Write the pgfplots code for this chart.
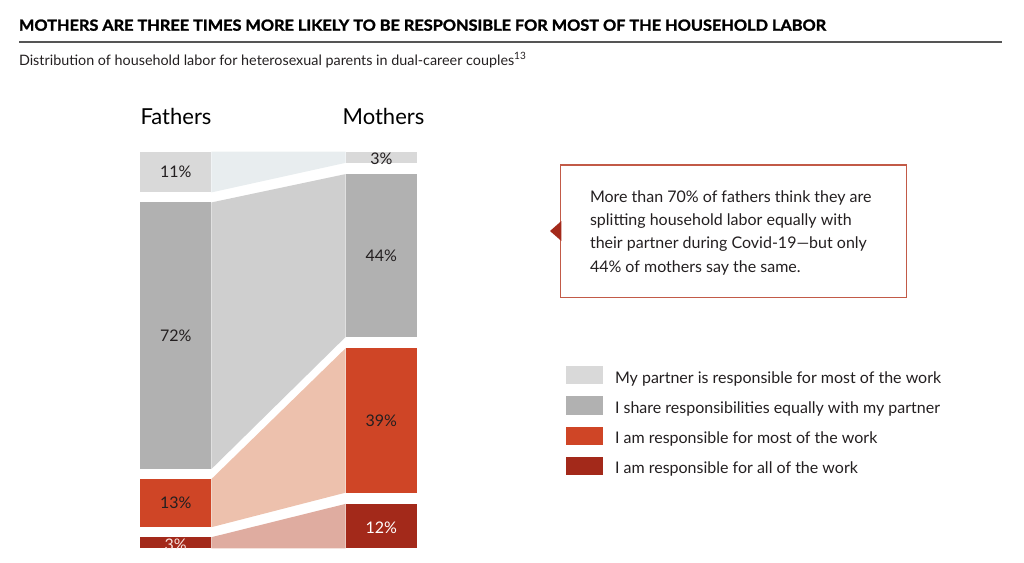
\documentclass[border=0pt]{standalone}
\usepackage{pgfplots}
\pgfplotsset{compat=1.18}
\usepackage{fontspec}
\usepackage{graphicx}
\setmainfont{Lato}
\newfontfamily\headfont{Lato}[BoldFeatures={FakeBold=1.6}]

% palette
\definecolor{partner}{HTML}{D9D9D9}
\definecolor{share}{HTML}{B1B1B1}
\definecolor{most}{HTML}{CF4526}
\definecolor{allwork}{HTML}{A3291A}
\definecolor{partnerflow}{HTML}{E8EDEF}
\definecolor{shareflow}{HTML}{CFCFCF}
\definecolor{mostflow}{HTML}{EDC1AD}
\definecolor{allflow}{HTML}{DFACA0}
\definecolor{ink}{HTML}{231F20}
\definecolor{rulegray}{HTML}{555555}
\definecolor{boxred}{HTML}{C25A47}

\newcommand{\lbl}{\fontsize{16}{19}\selectfont}

\begin{document}
\begin{tikzpicture}
\path[use as bounding box] (0,0) rectangle (1024pt,-562pt);

\begin{scope}[x=1pt,y=-1pt, every node/.style={inner sep=0pt, outer sep=0pt}]
  % heading, rule and subheading
  \node[anchor=base west, text=black] at (19,30.7)
    {\resizebox{807pt}{\height}{\fontsize{15.3}{18}\selectfont\headfont\bfseries MOTHERS ARE THREE TIMES MORE LIKELY TO BE RESPONSIBLE FOR MOST OF THE HOUSEHOLD LABOR}};
  \fill[rulegray] (19,41.3) rectangle (1001.7,43.4);
  \node[anchor=base west, text=ink] at (19,65)
    {\fontsize{14.35}{17}\selectfont Distribution of household labor for heterosexual parents in dual-career couples\textsuperscript{13}};

  % column headings
  \node[anchor=base, text=black] at (176,124.3) {\fontsize{22}{26}\selectfont Fathers};
  \node[anchor=base, text=black] at (383.5,124.3) {\fontsize{22}{26}\selectfont Mothers};

  % call-out box
  \draw[boxred, line width=1.4pt] (560.7,165) rectangle (906.7,297.3);
  \fill[allwork] (561.4,221) -- (550,231) -- (561.4,241) -- cycle;
  \node[anchor=base west, text=ink] at (590,202.3) {\lbl More than 70\% of fathers think they are};
  \node[anchor=base west, text=ink] at (590,225.6) {\lbl splitting household labor equally with};
  \node[anchor=base west, text=ink] at (590,248.9) {\lbl their partner during Covid-19---but only};
  \node[anchor=base west, text=ink] at (590,272.2) {\lbl 44\% of mothers say the same.};

  % key
  \foreach \c/\t [count=\i from 0] in {
      partner/My partner is responsible for most of the work,
      share/I share responsibilities equally with my partner,
      most/I am responsible for most of the work,
      allwork/I am responsible for all of the work} {
    \fill[\c] (565.7,366+30.3*\i) rectangle (603.3,384.3+30.3*\i);
    \node[anchor=base west, text=ink] at (615,383+30.3*\i) {\lbl \t};
  }
\end{scope}

\begin{axis}[
  at={(140pt,-548.3pt)}, anchor=south west,
  scale only axis, width=277pt, height=396.6pt,
  xmin=0, xmax=3.88, ymin=0, ymax=107.1,
  hide axis, clip=false,
]
  % flows between the two columns (Fathers x in [0,1], Mothers x in [2.88,3.88])
  \addplot[fill=partnerflow, draw=none] coordinates {(1,96.1) (1,107.1) (2.88,107.09) (2.88,104.09)} -- cycle;
  \addplot[fill=shareflow, draw=none] coordinates {(1,21.4) (1,93.4) (2.88,101.06) (2.88,57.06)} -- cycle;
  \addplot[fill=mostflow, draw=none] coordinates {(1,5.7) (1,18.7) (2.88,54.03) (2.88,15.03)} -- cycle;
  \addplot[fill=allflow, draw=none] coordinates {(1,0) (1,3) (2.88,12) (2.88,0)} -- cycle;

  % Fathers: 3, 13, 72, 11 (bottom to top, gap 2.7)
  \addplot[fill=allwork, draw=none] coordinates {(0,0) (1,0) (1,3) (0,3)} -- cycle;
  \addplot[fill=most, draw=none] coordinates {(0,5.7) (1,5.7) (1,18.7) (0,18.7)} -- cycle;
  \addplot[fill=share, draw=none] coordinates {(0,21.4) (1,21.4) (1,93.4) (0,93.4)} -- cycle;
  \addplot[fill=partner, draw=none] coordinates {(0,96.1) (1,96.1) (1,107.1) (0,107.1)} -- cycle;

  % Mothers: 12, 39, 44, 3 (bottom to top, gap 3.03)
  \addplot[fill=allwork, draw=none] coordinates {(2.88,0) (3.88,0) (3.88,12) (2.88,12)} -- cycle;
  \addplot[fill=most, draw=none] coordinates {(2.88,15.03) (3.88,15.03) (3.88,54.03) (2.88,54.03)} -- cycle;
  \addplot[fill=share, draw=none] coordinates {(2.88,57.06) (3.88,57.06) (3.88,101.06) (2.88,101.06)} -- cycle;
  \addplot[fill=partner, draw=none] coordinates {(2.88,104.09) (3.88,104.09) (3.88,107.09) (2.88,107.09)} -- cycle;

  % value labels
  \node[text=ink, font=\lbl] at (axis cs:0.5,101.6) {11\%};
  \node[text=ink, font=\lbl] at (axis cs:0.5,57.4) {72\%};
  \node[text=ink, font=\lbl] at (axis cs:0.5,12.2) {13\%};
  \begin{scope}
    \clip (axis cs:0,0) rectangle (axis cs:1,3);
    \node[text=white!85!most, font=\lbl] at (axis cs:0.5,1.0) {3\%};
  \end{scope}
  \node[text=ink, font=\lbl] at (axis cs:3.38,105.3) {3\%};
  \node[text=ink, font=\lbl] at (axis cs:3.38,79.06) {44\%};
  \node[text=ink, font=\lbl] at (axis cs:3.38,34.53) {39\%};
  \node[text=white, font=\lbl] at (axis cs:3.38,5.6) {12\%};
\end{axis}
\end{tikzpicture}
\end{document}
